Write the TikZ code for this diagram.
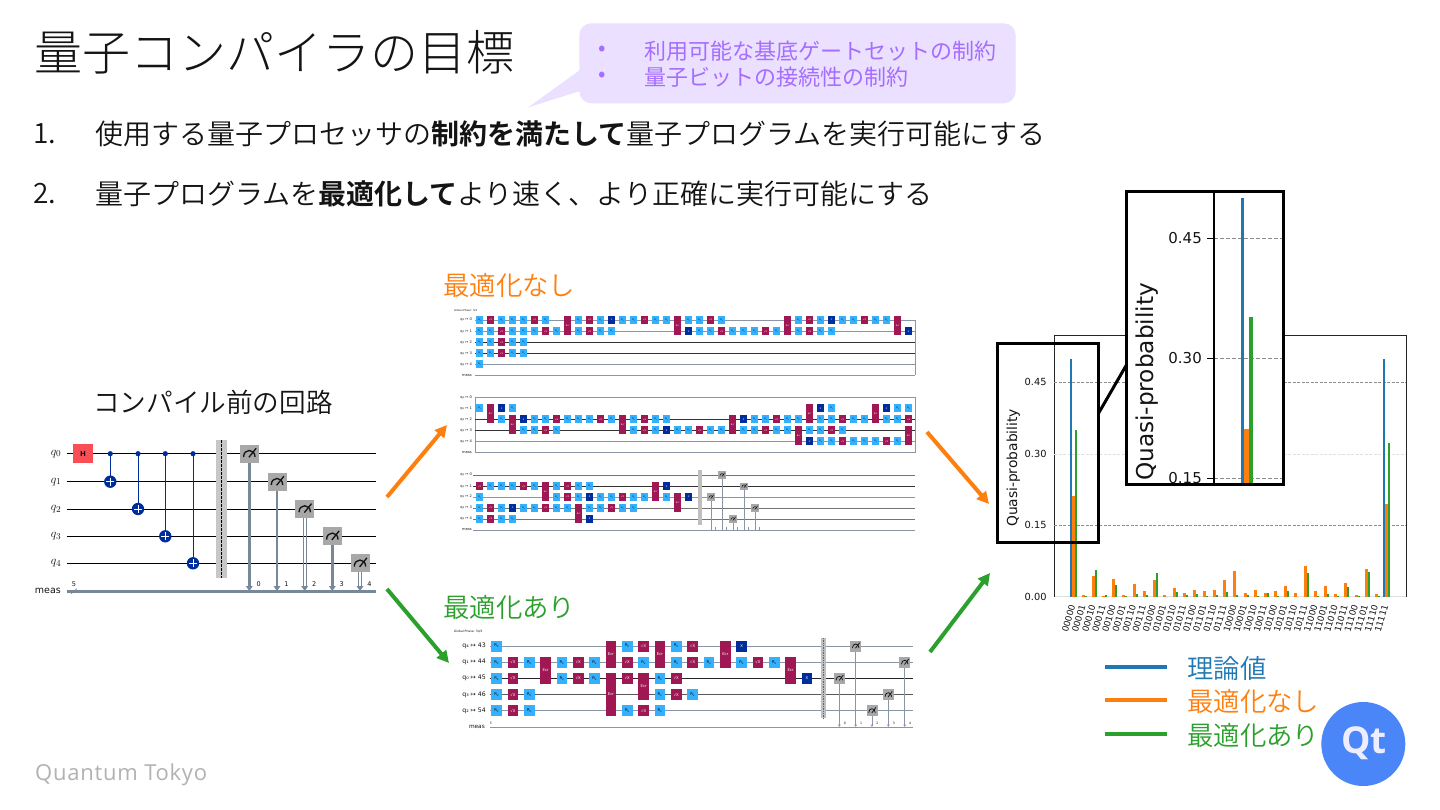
\documentclass[tikz,border=0pt]{standalone}
\usepackage{fontspec}
\usetikzlibrary{arrows.meta}
\newfontfamily\jp[BoldFont={Noto Sans CJK JP Bold}]{Noto Sans CJK JP DemiLight}
\newfontfamily\jpl{Noto Sans CJK JP Light}
\newfontfamily\jpm{Noto Sans CJK JP}
\newfontfamily\dv{DejaVu Sans}
\newfontfamily\ops{Open Sans}
\definecolor{qblue}{HTML}{33B1FF}
\definecolor{qmag}{HTML}{9F1853}
\definecolor{qnavy}{HTML}{002D9C}
\definecolor{qgray}{HTML}{A8A8A8}
\definecolor{qwire}{HTML}{8C95A6}
\definecolor{qmeas}{HTML}{778899}
\definecolor{tblue}{HTML}{1F77B4}
\definecolor{torange}{HTML}{FF7F0E}
\definecolor{tgreen}{HTML}{2CA02C}
\definecolor{lav}{HTML}{EBE0FF}
\definecolor{lavtext}{HTML}{A56EFF}
\definecolor{inkc}{HTML}{141414}
\definecolor{qtblue}{HTML}{4A86F7}
\definecolor{hred}{HTML}{FA4D56}
\newcommand{\fs}[1]{\fontsize{#1}{#1}\selectfont}
\newcommand{\txtqb}{R\textsubscript{z}}
\newcommand{\txtqm}{√X}
\newcommand{\txtqn}{X}
\tikzset{
  x=1pt,y=-1pt,
  qb/.style={fill=qblue,text=black,inner sep=0,font=\dv\fs{\cfs}},
  qm/.style={fill=qmag,text=white,inner sep=0,font=\dv\fs{\cfs}},
  qn/.style={fill=qnavy,text=white,inner sep=0,font=\dv\fs{\cfs}},
  tx/.style={inner sep=0,anchor=west,text=inkc,font=\jp},
  bigarrow/.style={line width=4pt,-{Triangle[length=12pt,width=12pt]}},
  wlab/.style={inner sep=0,anchor=east,text=inkc,font=\dv\fs{3.6}},
  ticklab/.style={inner sep=0,anchor=east,text=inkc,font=\dv\fs{9.8}},
  xlab/.style={inner sep=0,anchor=east,rotate=74,text=inkc,font=\dv\fs{8.8}},
}
\newcommand{\rowg}[3]{\foreach \cc in {#3} \node[#2,minimum width=\cw,minimum height=\ch] at ({\cxo+\cdx*\cc},#1) {\csname txt#2\endcsname};}
\newcommand{\tallg}[3]{\node[qm,minimum width=\cw,minimum height=#3-#2+\ch] at ({\cxo+\cdx*#1},{(#2+#3)/2}) {Ecr};}
\newcommand{\meter}[4]{%
  \fill[qgray] ({#1-#3/2},{#2-#4/2}) rectangle ({#1+#3/2},{#2+#4/2});
  \draw[inkc,line width={#3*0.07}] ({#1-#3*0.3},{#2+#4*0.18}) .. controls ({#1-#3*0.3},{#2-#4*0.3}) and ({#1+#3*0.3},{#2-#4*0.3}) .. ({#1+#3*0.3},{#2+#4*0.18});
  \draw[inkc,line width={#3*0.07}] ({#1-#3*0.02},{#2+#4*0.2}) -- ({#1+#3*0.36},{#2-#4*0.3});
}
\newcommand{\cxg}[2]{%
  \draw[qnavy,line width=1pt] (#1,453.7) -- (#1,#2);
  \fill[qnavy] (#1,453.7) circle (2.6);
  \fill[qnavy] (#1,#2) circle (6.2);
  \draw[white,line width=1pt] ({#1-4},#2) -- ({#1+4},#2) (#1,{#2-4}) -- (#1,{#2+4});
}
\begin{document}
\begin{tikzpicture}
\useasboundingbox (0,0) rectangle (1440,810);
\fill[white] (0,0) rectangle (1440,810);

% ---------- heading and list
\node[tx,font=\jpl\fs{48}] (title) at (34,52) {量子コンパイラの目標};
\fill[lav,rounded corners=12pt] (579.3,23.3) rectangle (1015.7,103.3);
\fill[lav] (580,70) -- (528.3,107.3) -- (580,91) -- cycle;
\node[tx,text=lavtext,font=\jpm\fs{22}] (bul1) at (598,51) {•};
\node[tx,text=lavtext,font=\jpm\fs{22}] (bul2) at (598,77) {•};
\node[tx,text=lavtext,font=\jpm\fs{22}] (c1) at (644,51) {利用可能な基底ゲートセットの制約};
\node[tx,text=lavtext,font=\jpm\fs{22}] (c2) at (644,77) {量子ビットの接続性の制約};
\node[tx,font=\jp\fs{28}] (n1) at (33,134) {1.};
\node[tx,font=\jp\fs{28}] (n2) at (33,194) {2.};
\node[tx,font=\jp\fs{28}] (l1) at (95,134) {使用する量子プロセッサの\textbf{制約を満たして}量子プログラムを実行可能にする};
\node[tx,font=\jp\fs{28}] (l2) at (95,194) {量子プログラムを\textbf{最適化して}より速く、より正確に実行可能にする};
\node[tx,font=\jp\fs{26.6}] (before) at (93,402) {コンパイル前の回路};
\node[tx,text=torange,font=\jp\fs{26.4}] (noopt) at (443,285) {最適化なし};
\node[tx,text=tgreen,font=\jp\fs{26.4}] (opt) at (443,607) {最適化あり};
\node[tx,text=black!30,font=\ops\fs{22}] (brand) at (35,775) {\addfontfeature{LetterSpace=3.4}Quantum Tokyo};

% ---------- source circuit
\foreach \yy/\qq in {453.7/0,481.7/1,509/2,536.3/3,563.3/4}{
  \draw[black,line width=0.9pt] (66.7,\yy) -- (376,\yy);
  \node[inner sep=0,text=inkc] (lab\qq) at (56,\yy) {\fs{12.5}$q_{\qq}$};
}
\draw[qmeas,line width=3.2pt] (66.7,591.3) -- (376,591.3);
\node[inner sep=0,anchor=east,text=inkc,font=\dv\fs{9.5}] (mm) at (61,591) {meas};
\node[inner sep=0,text=inkc,font=\dv\fs{6.5}] (m5) at (74,584.5) {5};
\draw[qmeas,line width=0.6pt] (71,594) -- (77,588.5);
\node[fill=hred,text=inkc,inner sep=0,minimum width=19.4,minimum height=18.4,font=\dv\bfseries\fs{7}] (hgate) at (83,453.5) {H};
\cxg{110.3}{481.7}
\cxg{138}{509}
\cxg{165.3}{536.3}
\cxg{193}{563.3}
\fill[black!22] (216,440) rectangle (226.7,577.7);
\draw[black,line width=0.8pt,dash pattern=on 2.5pt off 1.5pt] (221.5,440) -- (221.5,577.7);
\foreach \xx/\yy in {249.3/453.7,277/481.7,332.3/536.3}{
  \draw[qmeas,line width=2.6pt] (\xx,\yy) -- (\xx,587);
  \fill[qmeas] ({\xx-3.5},586) -- ({\xx+3.5},586) -- (\xx,591) -- cycle;
}
\foreach \xx/\yy in {304.7/509,360/563.3}{
  \draw[qmeas,line width=0.8pt] ({\xx-1.5},\yy) -- ({\xx-1.5},587) ({\xx+1.5},\yy) -- ({\xx+1.5},587);
  \fill[qmeas] ({\xx-3.5},586) -- ({\xx+3.5},586) -- (\xx,591) -- cycle;
}
\foreach \xx/\yy/\lb in {249.3/453.7/0,277/481.7/1,304.7/509/2,332.3/536.3/3,360/563.3/4}{
  \meter{\xx}{\yy}{19}{18}
  \node[inner sep=0,text=inkc,font=\dv\fs{6.5}] (cb\lb) at ({\xx+9.5},584.5) {\lb};
}

% ---------- circuit 1
\begin{scope}
\def\cxo{479.67}\def\cdx{11}\def\cw{7.4}\def\ch{8}\def\cfs{2.2}
\draw[qwire,line width=0.6pt] (475,320) -- (915,320) -- (915,375.3);
\draw[qwire,line width=0.6pt] (475,331.3) -- (915,331.3);
\draw[black!80,line width=0.7pt] (475,342.3) -- (915,342.3);
\draw[black!80,line width=0.7pt] (475,353.3) -- (915,353.3);
\draw[qwire,line width=0.6pt] (475,364.3) -- (915,364.3);
\draw[qwire,line width=0.6pt] (475,375.3) -- (915,375.3);
\node[inner sep=0,anchor=west,text=inkc,font=\dv\fs{2.6}] at (454,311) {Global Phase: π/2};
\foreach \yy/\wt in {320/q₀ ↦ 0,331.3/q₁ ↦ 1,342.3/q₂ ↦ 2,353.3/q₃ ↦ 3,364.3/q₄ ↦ 4,375.3/meas}{\node[wlab] at (472,\yy) {\wt};}
\rowg{320}{qb}{0,2,3,4,6,9,11,13,14,16,17,19,20,22,29,31,33,34,36,37}
\rowg{320}{qm}{1,5,10,15,21,30,35}
\rowg{320}{qn}{12,32}
\rowg{331.3}{qb}{0,1,3,4,5,7,9,11,12,20,21,23,24,25,27,29,31,32}
\rowg{331.3}{qm}{2,6,10,22,26,30}
\rowg{331.3}{qn}{19,39}
\rowg{342.3}{qb}{0,1,3,4}
\rowg{342.3}{qm}{2}
\rowg{353.3}{qb}{0,1,3,4}
\rowg{353.3}{qm}{2}
\rowg{364.3}{qb}{0}
\foreach \kk in {8,18,28,38}{\tallg{\kk}{320}{331.3}}
\end{scope}

% ---------- circuit 2
\begin{scope}
\def\cxo{479.67}\def\cdx{11}\def\cw{7.4}\def\ch{8}\def\cfs{2.2}
\draw[qwire,line width=0.7pt] (475,397.3) rectangle (915,452.3);
\draw[black!80,line width=0.7pt] (475,419.3) -- (915,419.3);
\draw[black!80,line width=0.7pt] (475,430.3) -- (915,430.3);
\draw[qwire,line width=0.6pt] (475,441.3) -- (915,441.3);
\foreach \yy/\wt in {397.3/q₀ ↦ 0,408.3/q₁ ↦ 1,419.3/q₂ ↦ 2,430.3/q₃ ↦ 3,441.3/q₄ ↦ 4,452.3/meas}{\node[wlab] at (472,\yy) {\wt};}
\rowg{408.3}{qb}{0,3,32,38,39}
\rowg{408.3}{qn}{2,31,37}
\rowg{419.3}{qb}{2,5,6,8,9,10,12,14,16,17,25,26,28,29,31,32,34,35,37,38}
\rowg{419.3}{qm}{7,11,15,27,33,39}
\rowg{419.3}{qn}{4,24}
\rowg{430.3}{qb}{4,5,7,14,16,18,19,21,22,24,25,27,28,30,31,33}
\rowg{430.3}{qm}{6,15,20,26,32}
\rowg{430.3}{qn}{17}
\rowg{441.3}{qb}{31,32,34,35,36,38}
\rowg{441.3}{qm}{33,37}
\rowg{441.3}{qn}{30}
\foreach \kk in {1,30,36}{\tallg{\kk}{408.3}{419.3}}
\foreach \kk in {3,13,23}{\tallg{\kk}{419.3}{430.3}}
\foreach \kk in {29,39}{\tallg{\kk}{430.3}{441.3}}
\end{scope}

% ---------- circuit 3
\begin{scope}
\def\cxo{479.67}\def\cdx{11}\def\cw{7.4}\def\ch{8}\def\cfs{2.2}
\draw[black!55,line width=0.7pt] (473,475) -- (915,475);
\draw[black!80,line width=0.7pt] (473,486.3) -- (915,486.3);
\draw[qwire,line width=0.6pt] (473,497) -- (915,497);
\draw[black!55,line width=0.9pt] (473,508) -- (915,508);
\draw[black!55,line width=0.9pt] (473,519) -- (915,519);
\draw[qwire,line width=0.8pt] (473,530) -- (915,530);
\foreach \yy/\wt in {475/q₀ ↦ 0,486.3/q₁ ↦ 1,497/q₂ ↦ 2,508/q₃ ↦ 3,519/q₄ ↦ 4,530/meas}{\node[wlab] at (472,\yy) {\wt};}
\rowg{486.3}{qb}{1,2,3,5,7,9,10}
\rowg{486.3}{qm}{0,4,8}
\rowg{486.3}{qn}{17}
\rowg{497}{qb}{0,7,9,11,12,14,15,17}
\rowg{497}{qm}{8,13}
\rowg{497}{qn}{10,19}
\rowg{508}{qb}{0,2,4,5,7,8,10,11,13,14}
\rowg{508}{qm}{1,6,12}
\rowg{508}{qn}{3}
\rowg{519}{qb}{0,2,3}
\rowg{519}{qm}{1}
\rowg{519}{qn}{10}
\foreach \kk in {6,16}{\tallg{\kk}{486.3}{497}}
\tallg{18}{497}{508}
\tallg{9}{508}{519}
\fill[black!25] (698,469.5) rectangle (702,524.5);
\foreach \xx/\yy in {711/497,722/475,733/519,744/486.3,755/508}{
  \draw[qwire,line width=0.9pt] (\xx,\yy) -- (\xx,530);
  \meter{\xx}{\yy}{7.5}{7.5}
  \draw[qwire,line width=0.4pt] ({\xx+3.7},527) -- ({\xx+3.7},530);
}
\end{scope}

% ---------- circuit 4
\begin{scope}
\def\cxo{496.67}\def\cdx{16.33}\def\cw{10.7}\def\ch{11}\def\cfs{3.8}
\draw[qwire,line width=0.7pt] (490,646) -- (913,646);
\draw[qwire,line width=0.7pt] (490,662.3) -- (913,662.3);
\draw[black!85,line width=0.9pt] (490,678.3) -- (913,678.3);
\draw[black!65,line width=0.9pt] (490,694.7) -- (913,694.7);
\draw[qwire,line width=0.7pt] (490,710.7) -- (913,710.7);
\draw[qwire,line width=1pt] (490,727) -- (913,727);
\node[inner sep=0,anchor=west,text=inkc,font=\dv\fs{3}] at (454,631) {Global Phase: 3π/2};
\foreach \yy/\wt in {646/q₄ ↦ 43,662.3/q₁ ↦ 44,678.3/q₀ ↦ 45,694.7/q₃ ↦ 46,710.7/q₂ ↦ 54}{\node[inner sep=0,anchor=east,text=inkc,font=\dv\fs{6.2}] at (486,\yy) {\wt};}
\node[inner sep=0,anchor=east,text=inkc,font=\dv\fs{5.8}] at (485,727) {meas};
\node[inner sep=0,text=inkc,font=\dv\fs{3.2}] at (491,723) {5};
\rowg{646}{qb}{0,8,11}
\rowg{646}{qm}{9,12}
\rowg{646}{qn}{15}
\rowg{662.3}{qb}{0,2,4,6,9,11,13,15,17}
\rowg{662.3}{qm}{1,5,8,12,16}
\rowg{678.3}{qb}{0,4,6,10}
\rowg{678.3}{qm}{1,5,8,11}
\rowg{678.3}{qn}{19}
\rowg{694.7}{qb}{0,2,10,12}
\rowg{694.7}{qm}{1,11}
\rowg{710.7}{qb}{0,2,8,10}
\rowg{710.7}{qm}{1,9}
\foreach \kk in {7,10,14}{\tallg{\kk}{646}{662.3}}
\foreach \kk in {3,18}{\tallg{\kk}{662.3}{678.3}}
\tallg{7}{678.3}{710.7}
\tallg{9}{678.3}{694.7}
\fill[black!25] (821,638) rectangle (825.5,718);
\draw[black!60,line width=0.4pt,dash pattern=on 1pt off 0.7pt] (823.3,638) -- (823.3,718);
\foreach \xx/\yy/\lb in {839.3/678.3/0,855.7/646/1,872/710.7/2,888.3/694.7/3,904.7/662.3/4}{
  \draw[qwire,line width=0.8pt] (\xx,\yy) -- (\xx,725);
  \fill[qwire] ({\xx-1.5},724.5) -- ({\xx+1.5},724.5) -- (\xx,727) -- cycle;
  \meter{\xx}{\yy}{11}{11}
  \node[inner sep=0,text=inkc,font=\dv\fs{3.2}] at ({\xx+5.5},723) {\lb};
}
\end{scope}

% ---------- arrows
\coordinate (a1s) at (387,497); \coordinate (a1e) at (447,425);
\coordinate (a2s) at (927,432); \coordinate (a2e) at (989,504);
\coordinate (a3s) at (387,589); \coordinate (a3e) at (449,663);
\coordinate (a4s) at (930,652); \coordinate (a4e) at (990,573);
\draw[bigarrow,torange] (a1s) -- (a1e);
\draw[bigarrow,torange] (a2s) -- (a2e);
\draw[bigarrow,tgreen] (a3s) -- (a3e);
\draw[bigarrow,tgreen] (a4s) -- (a4e);

% ---------- chart
\draw[black!12,line width=1pt] (1054.3,596.7) -- (1406.3,596.7);
\draw[black!85,line width=0.7pt] (1054.3,596.7) -- (1054.3,335.3) -- (1406.3,335.3) -- (1406.3,596.7);
\foreach \yy/\vv/\dd in {382.3/0.45/black!45,454/0.30/black!12,525.3/0.15/black!45}{
  \draw[\dd,line width=0.6pt,dash pattern=on 3pt off 1.5pt] (1054.3,\yy) -- (1406.3,\yy);
  \node[ticklab] at (1046.7,\yy) {\vv};
}
\node[ticklab] at (1046.7,596.7) {0.00};
\node[inner sep=0,rotate=90,text=inkc,font=\dv\fs{13.8}] (ylab) at (1013.3,468) {Quasi-probability};
\foreach \ii/\ov/\gv/\bs in {0/302/500/00000,1/5/1/00001,2/62/80/00010,3/3/4/00011,4/52/35/00100,5/6/3/00101,6/37/8/00110,7/16/6/00111,8/50/70/01000,9/5/0/01001,10/26/14/01010,11/12/6/01011,12/20/8/01100,13/16/3/01101,14/21/6/01110,15/50/14/01111,16/77/5/10000,17/11/5/10001,18/20/2/10010,19/11/11/10011,20/16/3/10100,21/32/16/10101,22/12/0/10110,23/92/70/10111,24/17/2/11000,25/33/7/11001,26/7/1/11010,27/42/28/11011,28/4/1/11100,29/82/75/11101,30/7/3/11110,31/278/460/11111}{
  \pgfmathsetmacro{\bc}{1073.5+10.09*\ii}
  \fill[torange] ({\bc-1.5},596.7) rectangle ({\bc+1.5},{596.7-\ov/3});
  \fill[tgreen] ({\bc+1.5},596.7) rectangle ({\bc+3.5},{596.7-\gv/3});
  \node[xlab] at ({\bc-1},605) {\bs};
}
\fill[tblue] (1070,596.7) rectangle (1072,358.7);
\fill[tblue] (1382.8,596.7) rectangle (1384.8,358.7);

% ---------- legend
\foreach \yy/\lc/\kk in {667/tblue/理論値,700/torange/最適化なし,734/tgreen/最適化あり}{
  \draw[\lc,line width=4pt] (1105,\yy) -- (1166.7,\yy);
  \node[tx,text=\lc,font=\jp\fs{26.4}] at (1187,{\yy+1}) {\kk};
}
\fill[qtblue] (1363.3,744) circle (42);
\node[inner sep=0,text=white!93!blue,font=\ops\bfseries\fs{37}] (qt) at (1364,743) {Qt};

% ---------- zoom boxes
\node[draw=black,line width=3pt,inner sep=0,minimum width=101.4,minimum height=199.4] (zs) at (1048,443) {};
\coordinate (zc1) at (1098.7,413);
\coordinate (zc2) at (1128.3,361.7);
\draw[black,line width=3pt] (zc1) -- (zc2);
\fill[white] (1126.7,191.7) rectangle (1283.3,484.3);
\begin{scope}
\clip (1126.7,191.7) rectangle (1283.3,484.3);
\foreach \yy/\vv in {238.3/0.45,358.3/0.30,478.3/0.15}{
  \draw[black!45,line width=0.7pt,dash pattern=on 4pt off 2pt] (1214.3,\yy) -- (1283.3,\yy);
  \draw[black,line width=0.8pt] (1207,\yy) -- (1214.3,\yy);
  \node[inner sep=0,anchor=east,text=inkc,font=\dv\fs{15}] at (1202,\yy) {\vv};
}
\fill[tblue] (1241,484.3) rectangle (1244,198.3);
\fill[torange] (1244,484.3) rectangle (1249,429);
\fill[tgreen] (1249,484.3) rectangle (1253,317);
\draw[black,line width=1.8pt] (1214.3,191.7) -- (1214.3,484.3);
\end{scope}
\node[inner sep=0,rotate=90,text=inkc,font=\dv\fs{23.2}] (ybig) at (1146.7,382) {Quasi-probability};
\draw[black,line width=3pt] (1126.7,191.7) rectangle (1283.3,484.3);
\end{tikzpicture}
\end{document}
